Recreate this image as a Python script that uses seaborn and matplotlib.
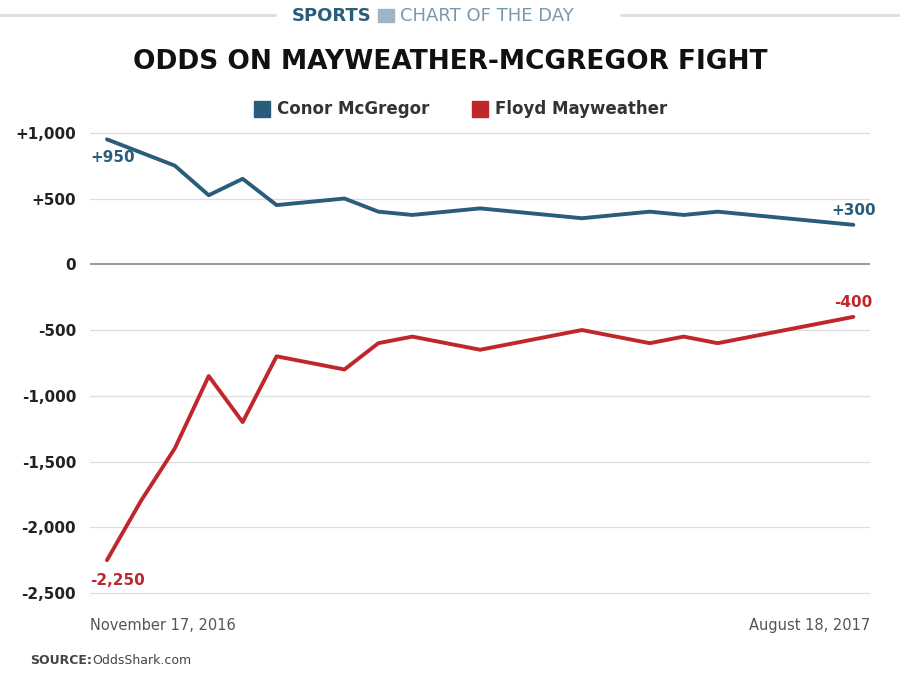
import matplotlib
matplotlib.use("Agg")
import matplotlib.pyplot as plt
import seaborn as sns
import pandas as pd

# step index (roughly weekly-ish points between the two dates)
steps = [0, 1, 2, 3, 4, 5, 7, 8, 9, 11, 14, 16, 17, 18, 22]
mcgregor = [950, 850, 750, 525, 650, 450, 500, 400, 375, 425, 350, 400, 375, 400, 300]
mayweather = [-2250, -1800, -1400, -850, -1200, -700, -800, -600, -550, -650, -500, -600, -550, -600, -400]
yticks = [1000, 500, 0, -500, -1000, -1500, -2000, -2500]
ylabels = ["+1,000", "+500", "0", "-500", "-1,000", "-1,500", "-2,000", "-2,500"]
date_labels = ["November 17, 2016", "August 18, 2017"]

blue = "#2a5d7c"
red = "#c0272d"

df = pd.DataFrame({"step": steps * 2,
                   "odds": mcgregor + mayweather,
                   "fighter": ["Conor McGregor"] * len(steps) + ["Floyd Mayweather"] * len(steps)})

sns.set_style("white")
fig = plt.figure(figsize=(9, 6.75), dpi=100)
ax = fig.add_axes([0.1, 0.1, 0.867, 0.715])
sns.lineplot(data=df, x="step", y="odds", hue="fighter", palette=[blue, red],
             linewidth=2.8, legend=False, ax=ax)

ax.set_xlim(-0.5, 22.5)
ax.set_ylim(-2610, 1060)
ax.set_yticks(yticks)
ax.set_yticklabels(ylabels, fontsize=11, fontweight="bold", color="#222222")
ax.set_xticks([])
ax.set_xlabel("")
ax.set_ylabel("")
for y in yticks:
    ax.axhline(y, color="#888888" if y == 0 else "#dddddd", lw=1.2 if y == 0 else 0.9, zorder=0)
for s in ax.spines.values():
    s.set_visible(False)
ax.tick_params(axis="y", length=0, pad=10)

ax.text(steps[0] - 0.5, mcgregor[0] - 170, "+950", color=blue, fontsize=11, fontweight="bold")
ax.text(steps[-1], mcgregor[-1] + 50, "+300", color=blue, fontsize=11, fontweight="bold", ha="center", va="bottom")
ax.text(steps[0] - 0.5, mayweather[0] - 100, "-2,250", color=red, fontsize=11, fontweight="bold", va="top")
ax.text(steps[-1], mayweather[-1] + 50, "-400", color=red, fontsize=11, fontweight="bold", ha="center", va="bottom")

fig.text(0.1, 0.066, date_labels[0], fontsize=10.5, color="#555555")
fig.text(0.967, 0.066, date_labels[1], fontsize=10.5, color="#555555", ha="right")

# header
fig.text(0.413, 0.976, "SPORTS", fontsize=13, fontweight="bold", color=blue, ha="right", va="center")
fig.text(0.445, 0.976, "CHART OF THE DAY", fontsize=13, color="#7a98ad", ha="left", va="center")
fig.patches.append(plt.Rectangle((0.42, 0.967), 0.018, 0.02, transform=fig.transFigure, color="#9fb4c4"))
fig.lines.append(plt.Line2D([0.0, 0.305], [0.978, 0.978], transform=fig.transFigure, color="#dddddd", lw=2))
fig.lines.append(plt.Line2D([0.69, 1.0], [0.978, 0.978], transform=fig.transFigure, color="#dddddd", lw=2))
fig.text(0.5, 0.908, "ODDS ON MAYWEATHER-MCGREGOR FIGHT", fontsize=19, fontweight="bold",
         color="#111111", ha="center", va="center")

# legend
fig.patches.append(plt.Rectangle((0.282, 0.827), 0.018, 0.024, transform=fig.transFigure, color=blue))
fig.text(0.308, 0.839, "Conor McGregor", fontsize=12, fontweight="bold", color="#333333", va="center")
fig.patches.append(plt.Rectangle((0.524, 0.827), 0.018, 0.024, transform=fig.transFigure, color=red))
fig.text(0.550, 0.839, "Floyd Mayweather", fontsize=12, fontweight="bold", color="#333333", va="center")

fig.text(0.033, 0.016, "SOURCE:", fontsize=9, fontweight="bold", color="#444444")
fig.text(0.103, 0.016, "OddsShark.com", fontsize=9, color="#444444")

fig.savefig("out.png", dpi=100)
